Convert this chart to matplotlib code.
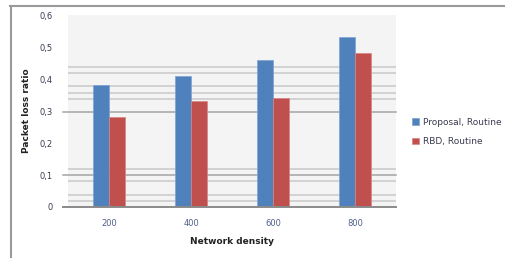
import matplotlib.pyplot as plt
import numpy as np
from matplotlib.lines import Line2D

# Data
densities = ["200", "400", "600", "800"]
proposal_routine = [0.38, 0.41, 0.46, 0.53]
rbd_routine = [0.28, 0.33, 0.34, 0.48]
ytick_values = [0, 0.1, 0.2, 0.3, 0.4, 0.5, 0.6]
ytick_labels = ["0", "0,1", "0,2", "0,3", "0,4", "0,5", "0,6"]

# scanned-in gridlines (light) and the darker ones that carry a tick mark
light_grid = [0.019, 0.0375, 0.081, 0.119, 0.3375, 0.356, 0.378, 0.419, 0.4375]
dark_grid = [0.1, 0.297]

BLUE = "#4f81bd"
RED = "#c0504d"
TEXT = "#3a3a50"

fig = plt.figure(figsize=(5.05, 2.58), dpi=100)
ax = fig.add_axes([68 / 505, 51 / 258, 328 / 505, 192 / 258])
ax.set_facecolor("#f4f4f4")

for lvl in light_grid:
    ax.axhline(lvl, color="#c8c8c8", lw=1.1, zorder=1)
for lvl in dark_grid:
    ax.axhline(lvl, xmin=-0.015, xmax=1, color="#a4a4a4", lw=1.1, zorder=1,
               clip_on=False)
ax.axhline(0, xmin=-0.015, xmax=1, color="#8a8a8a", lw=1.4, zorder=3,
           clip_on=False)

x = np.arange(len(densities))
w = 0.195
ax.bar(x - w / 2, proposal_routine, w, color=BLUE, edgecolor="#7fa3d0",
       lw=0.5, zorder=2, label="Proposal, Routine")
ax.bar(x + w / 2, rbd_routine, w, color=RED, edgecolor="#d88584",
       lw=0.5, zorder=2, label="RBD, Routine")

ax.set_xlim(-0.5, 3.5)
ax.set_ylim(0, 0.6)
for s in ax.spines.values():
    s.set_visible(False)

ax.set_yticks(ytick_values)
ax.set_yticklabels(ytick_labels, fontsize=6, color=TEXT)
ax.set_xticks(x)
ax.set_xticklabels(densities, fontsize=6, color="#50608a")
ax.tick_params(length=0)
ax.tick_params(axis="y", pad=11)
ax.tick_params(axis="x", pad=9)

ax.set_xlabel("Network density", fontsize=6.5, fontweight="bold",
              color="#222222", labelpad=6)
ax.set_ylabel("Packet loss ratio", fontsize=6.5, fontweight="bold",
              color="#222222", labelpad=6)

fig.legend(loc="center left", bbox_to_anchor=(404 / 505, 1 - 132 / 258),
           frameon=False, fontsize=6.5, handlelength=0.75, handleheight=0.75,
           handletextpad=0.4, labelspacing=1.15, labelcolor=TEXT)

# outer frame from the scanned figure
fig.add_artist(Line2D([10 / 505, 1], [1 - 6 / 258, 1 - 6 / 258],
                      color="#9a9a9a", lw=1.5))
fig.add_artist(Line2D([10.5 / 505, 10.5 / 505], [0, 1 - 6 / 258],
                      color="#9a9a9a", lw=1.5))

fig.savefig("out.png", dpi=100)
